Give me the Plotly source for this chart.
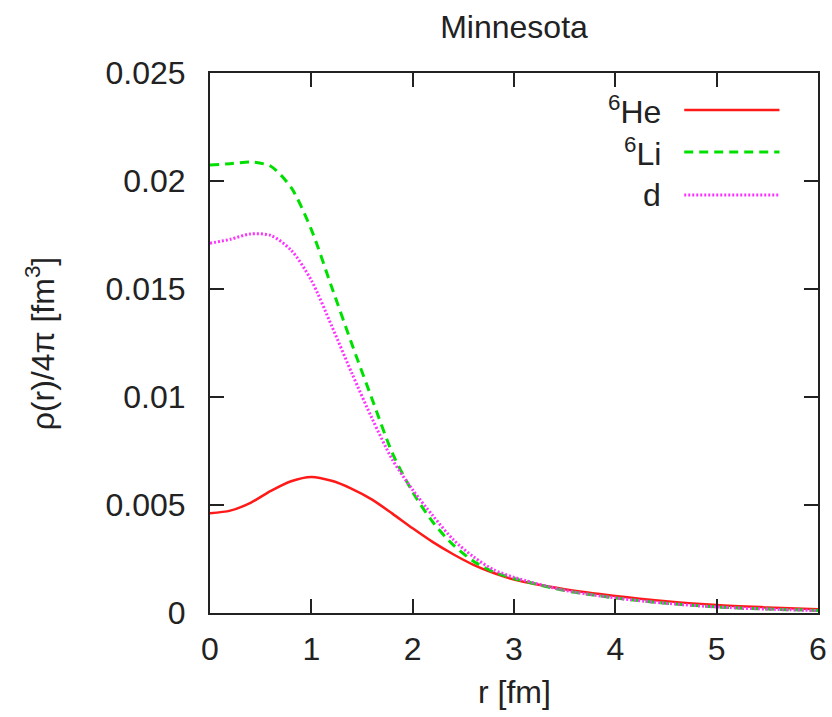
import plotly.graph_objects as go

# ---- data ----
r = [0.0, 0.2, 0.4, 0.6, 0.8, 1.0, 1.2, 1.4, 1.6, 1.8, 2.0, 2.2, 2.4, 2.6, 2.8,
     3.0, 3.5, 4.0, 4.5, 5.0, 5.5, 6.0]

rho_He6 = [0.00462, 0.00474, 0.00510, 0.00565, 0.00610, 0.00630, 0.00612, 0.00575,
           0.00525, 0.00460, 0.00392, 0.00328, 0.00272, 0.00223, 0.00185,
           0.00155, 0.00110, 0.00079, 0.00055, 0.00037, 0.00026, 0.00017]

rho_Li6 = [0.02074, 0.02080, 0.02088, 0.02068, 0.01970, 0.01775, 0.01510, 0.01245,
           0.00990, 0.00740, 0.00560, 0.00420, 0.00315, 0.00240, 0.00190,
           0.00160, 0.00104, 0.00070, 0.00045, 0.00028, 0.00018, 0.00012]

rho_d = [0.01712, 0.01730, 0.01755, 0.01748, 0.01680, 0.01540, 0.01330, 0.01110,
         0.00900, 0.00710, 0.00570, 0.00450, 0.00340, 0.00260, 0.00200,
         0.00165, 0.00105, 0.00070, 0.00045, 0.00028, 0.00018, 0.00011]

series_names = ["<sup>6</sup>He", "<sup>6</sup>Li", "d"]
x_ticks = [0, 1, 2, 3, 4, 5, 6]
y_ticks = [0, 0.005, 0.01, 0.015, 0.02, 0.025]
y_ticktext = ["0", "0.005", "0.01", "0.015", "0.02", "0.025"]

# ---- styles ----
FONT = "Liberation Sans, Arial, Helvetica, sans-serif"
FS = 32
TXT = "#222222"
colors = ["#ff1a1a", "#00e000", "#ff33ff"]
dashes = ["solid", "9px,6px", "2px,2px"]
widths = [2.5, 3, 3]

fig = go.Figure()
for ys, c, d, w in zip([rho_He6, rho_Li6, rho_d], colors, dashes, widths):
    fig.add_trace(go.Scatter(x=r, y=ys, mode="lines",
                             line=dict(color=c, dash=d, width=w, shape="spline", smoothing=0.8),
                             showlegend=False))

# ---- manual gnuplot-style legend (label, then line sample to its right) ----
leg_y = [0.9315, 0.8537, 0.774]
for name, c, d, w, yy in zip(series_names, colors, dashes, widths, leg_y):
    fig.add_annotation(x=0.7455, y=yy, xref="paper", yref="paper", text=name,
                       showarrow=False, xanchor="right", yanchor="middle",
                       font=dict(family=FONT, size=FS, color=TXT))
    fig.add_shape(type="line", xref="paper", yref="paper", x0=0.780, x1=0.9366,
                  y0=yy, y1=yy, line=dict(color=c, dash=d, width=w))

# axis titles as annotations
fig.add_annotation(x=-0.279, y=0.5, xref="paper", yref="paper",
                   text="ρ(r)/4π [fm<sup>3</sup>]", textangle=-90, showarrow=False,
                   xanchor="center", yanchor="middle",
                   font=dict(family=FONT, size=FS, color=TXT))
fig.add_annotation(x=0.5, y=-0.146, xref="paper", yref="paper",
                   text="r [fm]", showarrow=False, xanchor="center", yanchor="middle",
                   font=dict(family=FONT, size=FS, color=TXT))

axis_common = dict(showline=True, linecolor="#222222", linewidth=2, mirror="ticks",
                   ticks="inside", ticklen=14, tickwidth=2, tickcolor="#222222",
                   showgrid=False, zeroline=False, automargin=False,
                   tickfont=dict(family=FONT, size=FS, color=TXT))

fig.update_xaxes(range=[0, 6], tickvals=x_ticks, ticklabelstandoff=7, **axis_common)
fig.update_yaxes(range=[0, 0.025], tickvals=y_ticks, ticktext=y_ticktext,
                 ticklabelstandoff=16, **axis_common)

fig.update_layout(
    width=832, height=717,
    margin=dict(l=210, r=14, t=73, b=104),
    paper_bgcolor="white", plot_bgcolor="white",
    title=dict(text="Minnesota", x=0.5, xref="paper", y=1 - 27 / 717, yref="container",
               xanchor="center", yanchor="middle",
               font=dict(family=FONT, size=FS, color=TXT)),
    showlegend=False,
)

fig.write_html("out.html")
